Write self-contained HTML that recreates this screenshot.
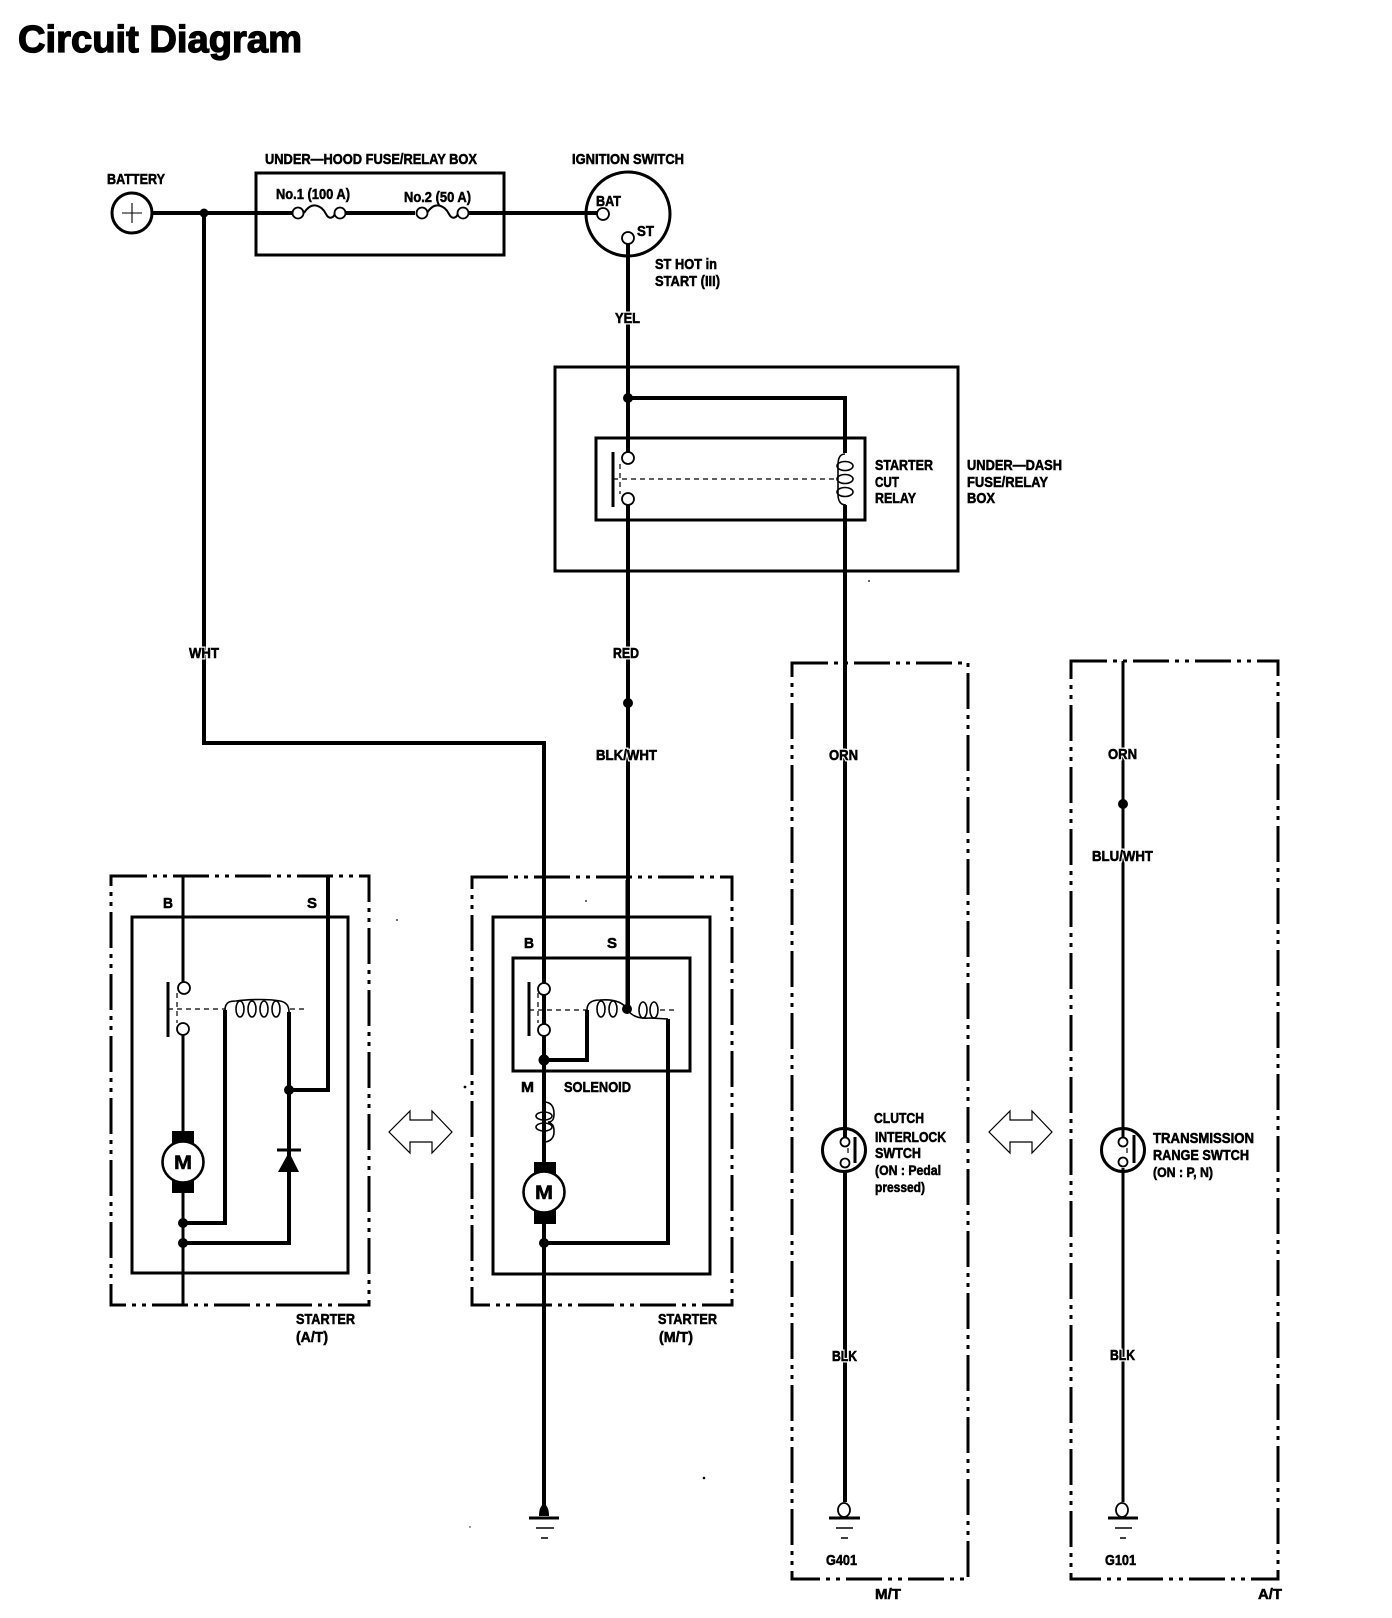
<!DOCTYPE html>
<html><head><meta charset="utf-8"><title>Circuit Diagram</title>
<style>
html,body{margin:0;padding:0;background:#fff}
svg{display:block}
text{font-family:"Liberation Sans",sans-serif;font-weight:bold;font-size:15px;fill:#000;stroke:#000;stroke-width:.55px}
.l{paint-order:stroke;stroke:#fff;stroke-width:3px}
.b{fill:none;stroke:#000;stroke-width:3}
.w{fill:none;stroke:#000;stroke-width:4}
.t{fill:none;stroke:#000;stroke-width:1.6}
.d{fill:none;stroke:#000;stroke-width:3;stroke-dasharray:36 6 4 6 4 6}
.f{fill:none;stroke:#000;stroke-width:1.2;stroke-dasharray:5 4}
.c{fill:#fff;stroke:#000;stroke-width:1.8}
.a{fill:#fff;stroke:#000;stroke-width:1.2}
</style></head><body>
<svg width="1392" height="1618" viewBox="0 0 1392 1618" xmlns="http://www.w3.org/2000/svg">
<rect width="1392" height="1618" fill="#fff"/>
<text x="18" y="52" style="font-size:38px;stroke-width:1.3px" textLength="284" lengthAdjust="spacingAndGlyphs">Circuit Diagram</text>

<!-- top row boxes -->
<rect class="b" x="256" y="173" width="248" height="82"/>
<circle class="b" cx="132" cy="213" r="20"/>
<path class="t" style="stroke-width:1.1" d="M122 213H142M132 203V223"/>
<ellipse class="b" cx="628" cy="214" rx="42" ry="42"/>
<!-- main wires -->
<path class="w" d="M152 213H292M346 213H415M469 213H597"/>
<path class="w" d="M204 213V743H544V1510"/>
<path class="w" d="M628 244V452M628 505V1009"/>
<path class="w" d="M628 398H845V453M845 505V1139M845 1170V1502"/>
<path class="w" style="stroke-width:3" d="M1123 661V1137M1123 1168V1502"/>
<circle cx="204" cy="213" r="4.5"/><circle cx="628" cy="398" r="5"/><circle cx="628" cy="703" r="5"/><circle cx="1123" cy="804" r="5"/>
<!-- fuses -->
<path class="t" style="stroke-width:2" d="M304 213C312 200 322 206 326 214C329 220 334 218 335 213"/>
<path class="t" style="stroke-width:2" d="M427 213C435 200 445 206 449 214C452 220 457 218 458 213"/>
<circle class="c" cx="298" cy="213" r="5.5"/><circle class="c" cx="340" cy="213" r="5.5"/>
<circle class="c" cx="422" cy="213" r="5.5"/><circle class="c" cx="463" cy="213" r="5.5"/>
<circle class="c" cx="603" cy="214" r="6"/><circle class="c" cx="628" cy="238" r="6"/>

<text x="107" y="184" textLength="58" lengthAdjust="spacingAndGlyphs">BATTERY</text>
<text x="265" y="164" textLength="212" lengthAdjust="spacingAndGlyphs">UNDER—HOOD FUSE/RELAY BOX</text>
<text x="276" y="199" textLength="74" lengthAdjust="spacingAndGlyphs">No.1 (100 A)</text>
<text x="404" y="202" textLength="67" lengthAdjust="spacingAndGlyphs">No.2 (50 A)</text>
<text x="572" y="164" textLength="112" lengthAdjust="spacingAndGlyphs">IGNITION SWITCH</text>
<text x="596" y="206" textLength="25" lengthAdjust="spacingAndGlyphs">BAT</text>
<text x="637" y="236" textLength="17" lengthAdjust="spacingAndGlyphs">ST</text>
<text x="655" y="269" textLength="62" lengthAdjust="spacingAndGlyphs">ST HOT in</text>
<text x="655" y="286" textLength="65" lengthAdjust="spacingAndGlyphs">START (III)</text>
<text class="l" x="615" y="323" textLength="25" lengthAdjust="spacingAndGlyphs">YEL</text>
<text x="615" y="323" textLength="25" lengthAdjust="spacingAndGlyphs">YEL</text>

<!-- relay -->
<rect class="b" x="555" y="367" width="403" height="204"/>
<rect class="b" x="596" y="438" width="269" height="82"/>
<path class="b" d="M613 452V507"/>
<path class="f" d="M613 479H837M620 464V494"/>
<circle class="c" cx="628" cy="458" r="6"/><circle class="c" cx="628" cy="499" r="6"/>
<path class="t" d="M845 454C838 454 838 462 838 466V494C838 500 840 505 846 505"/>
<ellipse class="t" cx="845" cy="466" rx="8" ry="4.5"/><ellipse class="t" cx="845" cy="479" rx="8" ry="4.5"/><ellipse class="t" cx="845" cy="492" rx="8" ry="4.5"/>
<text x="875" y="470" textLength="58" lengthAdjust="spacingAndGlyphs">STARTER</text>
<text x="875" y="487" textLength="24" lengthAdjust="spacingAndGlyphs">CUT</text>
<text x="875" y="503" textLength="41" lengthAdjust="spacingAndGlyphs">RELAY</text>
<text x="967" y="470" textLength="95" lengthAdjust="spacingAndGlyphs">UNDER—DASH</text>
<text x="967" y="487" textLength="81" lengthAdjust="spacingAndGlyphs">FUSE/RELAY</text>
<text x="967" y="503" textLength="28" lengthAdjust="spacingAndGlyphs">BOX</text>

<!-- Starter A/T -->
<rect class="d" x="111" y="876" width="258" height="429"/>
<rect class="b" x="132" y="917" width="216" height="356"/>
<path class="w" style="stroke-width:3" d="M183 876V982M183 1035V1135M183 1190V1306"/>
<path class="w" d="M183 1223H225V1010M183 1243H289V1012M289 1090H328V876"/>
<path class="b" d="M168 982V1037"/>
<path class="f" d="M168 1009H225M290 1009H308M177 993V1023"/>
<circle class="c" cx="184" cy="988" r="6"/><circle class="c" cx="183" cy="1029" r="6"/>
<path class="t" d="M225 1010C225 1002 230 1001 236 1001C250 999 270 999 280 1001C286 1002 289 1006 289 1012"/>
<ellipse class="t" cx="240" cy="1009" rx="4" ry="8"/><ellipse class="t" cx="252" cy="1009" rx="4" ry="8"/><ellipse class="t" cx="264" cy="1009" rx="4" ry="8"/><ellipse class="t" cx="276" cy="1009" rx="4" ry="8"/>
<rect x="172" y="1131" width="22" height="14"/><rect x="172" y="1179" width="22" height="14"/>
<circle cx="183" cy="1162" r="20.5" fill="#fff" stroke="#000" stroke-width="2.6"/>
<text x="174" y="1169" style="font-size:19px" textLength="18" lengthAdjust="spacingAndGlyphs">M</text>
<circle cx="183" cy="1223" r="5"/><circle cx="183" cy="1243" r="5"/><circle cx="289" cy="1090" r="5"/>
<path d="M277 1150H301" stroke="#000" stroke-width="3"/>
<path d="M289 1152L299 1172H278Z"/>
<text x="163" y="908" textLength="10" lengthAdjust="spacingAndGlyphs">B</text>
<text x="307" y="908" textLength="10" lengthAdjust="spacingAndGlyphs">S</text>
<text x="296" y="1324" textLength="59" lengthAdjust="spacingAndGlyphs">STARTER</text>
<text x="296" y="1342" textLength="32" lengthAdjust="spacingAndGlyphs">(A/T)</text>

<!-- Starter M/T -->
<rect class="d" x="472" y="877" width="260" height="428"/>
<rect class="b" x="493" y="917" width="217" height="357"/>
<rect class="b" x="513" y="958" width="177" height="113"/>
<path class="b" d="M529 982V1036"/>
<path class="f" d="M529 1010H587M660 1010H678M538 993V1023"/>
<path class="w" d="M544 1037V1102M544 1142V1165M544 1220V1510"/>
<path class="w" d="M544 1060H587V1010"/>
<path class="w" style="stroke-width:3" d="M627 880V1009"/>
<path class="w" d="M544 1243H668V1019"/>
<circle class="c" cx="544" cy="989" r="6"/><circle class="c" cx="544" cy="1030" r="6"/>
<circle cx="544" cy="1060" r="5.5"/><circle cx="627" cy="1009" r="5"/><circle cx="544" cy="1243" r="5"/>
<path class="t" d="M587 1010C587 1002 593 1000 600 1000C612 999 622 1001 627 1009C632 1017 640 1019 650 1018L668 1019"/>
<ellipse class="t" cx="601" cy="1009" rx="4" ry="8"/><ellipse class="t" cx="613" cy="1009" rx="4" ry="8"/><ellipse class="t" cx="643" cy="1010" rx="4" ry="8"/><ellipse class="t" cx="654" cy="1010" rx="4" ry="8"/>
<path class="t" d="M544 1102C552 1102 554 1108 554 1114C554 1120 552 1122 548 1122C554 1124 554 1128 554 1132C554 1138 550 1142 544 1142"/>
<ellipse class="t" cx="544" cy="1116" rx="8" ry="4"/><ellipse class="t" cx="544" cy="1127" rx="8" ry="4"/>
<rect x="534" y="1162" width="22" height="14"/><rect x="534" y="1210" width="22" height="14"/>
<circle cx="544" cy="1192" r="20.5" fill="#fff" stroke="#000" stroke-width="2.6"/>
<text x="535" y="1199" style="font-size:19px" textLength="18" lengthAdjust="spacingAndGlyphs">M</text>
<text x="524" y="948" textLength="10" lengthAdjust="spacingAndGlyphs">B</text>
<text x="607" y="948" textLength="10" lengthAdjust="spacingAndGlyphs">S</text>
<text x="521" y="1092" textLength="13" lengthAdjust="spacingAndGlyphs">M</text>
<text x="564" y="1092" textLength="67" lengthAdjust="spacingAndGlyphs">SOLENOID</text>
<text x="658" y="1324" textLength="59" lengthAdjust="spacingAndGlyphs">STARTER</text>
<text x="659" y="1342" textLength="34" lengthAdjust="spacingAndGlyphs">(M/T)</text>

<!-- double arrows -->
<path class="a" d="M389 1132L410 1111V1120H432V1111L452 1132L432 1153V1142H410V1153Z"/>
<path class="a" d="M989 1132L1010 1111V1120H1032V1111L1052 1132L1032 1153V1142H1010V1153Z"/>

<!-- M/T & A/T boxes -->
<rect class="d" x="792" y="663" width="176" height="916"/>
<rect class="d" x="1071" y="661" width="207" height="918"/>

<!-- switches -->
<circle cx="844" cy="1150" r="21.5" class="b"/>
<path class="b" d="M855 1137V1163"/>
<path class="f" d="M848 1148V1156" />
<circle class="c" cx="845" cy="1142" r="4.5"/><circle class="c" cx="845" cy="1163" r="4.5"/>
<text x="874" y="1123" textLength="50" lengthAdjust="spacingAndGlyphs">CLUTCH</text>
<text x="875" y="1142" textLength="71" lengthAdjust="spacingAndGlyphs">INTERLOCK</text>
<text x="875" y="1158" textLength="46" lengthAdjust="spacingAndGlyphs">SWTCH</text>
<text x="875" y="1175" style="font-size:14px" textLength="66" lengthAdjust="spacingAndGlyphs">(ON : Pedal</text>
<text x="875" y="1192" style="font-size:14px" textLength="50" lengthAdjust="spacingAndGlyphs">pressed)</text>

<circle cx="1123" cy="1150" r="21.5" class="b"/>
<path class="b" d="M1134 1135V1163"/>
<path class="f" d="M1127 1148V1156"/>
<circle class="c" cx="1123" cy="1142" r="4.5"/><circle class="c" cx="1123" cy="1162" r="4.5"/>
<text x="1153" y="1143" textLength="101" lengthAdjust="spacingAndGlyphs">TRANSMISSION</text>
<text x="1153" y="1160" textLength="96" lengthAdjust="spacingAndGlyphs">RANGE SWTCH</text>
<text x="1153" y="1177" style="font-size:14px" textLength="60" lengthAdjust="spacingAndGlyphs">(ON : P, N)</text>

<!-- wire labels (with halo over the wires) -->
<g>
<text class="l" x="189" y="658" textLength="30" lengthAdjust="spacingAndGlyphs">WHT</text>
<text x="189" y="658" textLength="30" lengthAdjust="spacingAndGlyphs">WHT</text>
<text class="l" x="613" y="658" textLength="26" lengthAdjust="spacingAndGlyphs">RED</text>
<text x="613" y="658" textLength="26" lengthAdjust="spacingAndGlyphs">RED</text>
<text class="l" x="596" y="760" textLength="61" lengthAdjust="spacingAndGlyphs">BLK/WHT</text>
<text x="596" y="760" textLength="61" lengthAdjust="spacingAndGlyphs">BLK/WHT</text>
<text class="l" x="829" y="760" textLength="29" lengthAdjust="spacingAndGlyphs">ORN</text>
<text x="829" y="760" textLength="29" lengthAdjust="spacingAndGlyphs">ORN</text>
<text class="l" x="1108" y="759" textLength="29" lengthAdjust="spacingAndGlyphs">ORN</text>
<text x="1108" y="759" textLength="29" lengthAdjust="spacingAndGlyphs">ORN</text>
<text class="l" x="1092" y="861" textLength="61" lengthAdjust="spacingAndGlyphs">BLU/WHT</text>
<text x="1092" y="861" textLength="61" lengthAdjust="spacingAndGlyphs">BLU/WHT</text>
<text class="l" x="832" y="1361" textLength="25" lengthAdjust="spacingAndGlyphs">BLK</text>
<text x="832" y="1361" textLength="25" lengthAdjust="spacingAndGlyphs">BLK</text>
<text class="l" x="1110" y="1360" textLength="25" lengthAdjust="spacingAndGlyphs">BLK</text>
<text x="1110" y="1360" textLength="25" lengthAdjust="spacingAndGlyphs">BLK</text>
</g>

<!-- grounds -->
<path d="M544 1503C540 1507 539 1510 539 1516H549C549 1510 548 1507 544 1503Z"/>
<path class="b" d="M529 1518H559"/><path class="t" d="M536 1528H554M541 1538H548"/>
<ellipse class="c" cx="844" cy="1510" rx="6" ry="7"/>
<path class="b" d="M829 1518H860"/><path class="t" d="M836 1528H853M841 1538H848"/>
<ellipse class="c" cx="1122" cy="1510" rx="6" ry="7"/>
<path class="b" d="M1108 1518H1138"/><path class="t" d="M1115 1528H1132M1120 1538H1126"/>
<text x="826" y="1565" textLength="31" lengthAdjust="spacingAndGlyphs">G401</text>
<text x="1105" y="1565" textLength="31" lengthAdjust="spacingAndGlyphs">G101</text>
<text x="875" y="1599" textLength="26" lengthAdjust="spacingAndGlyphs">M/T</text>
<text x="1258" y="1599" textLength="24" lengthAdjust="spacingAndGlyphs">A/T</text>

<!-- specks -->
<g fill="#000"><circle cx="465" cy="1087" r="1.4"/><circle cx="704" cy="1478" r="1.3"/><circle cx="869" cy="581" r=".9"/><circle cx="397" cy="920" r=".9"/><circle cx="586" cy="901" r=".9"/><circle cx="470" cy="1527" r=".7"/></g>
</svg>
</body></html>
